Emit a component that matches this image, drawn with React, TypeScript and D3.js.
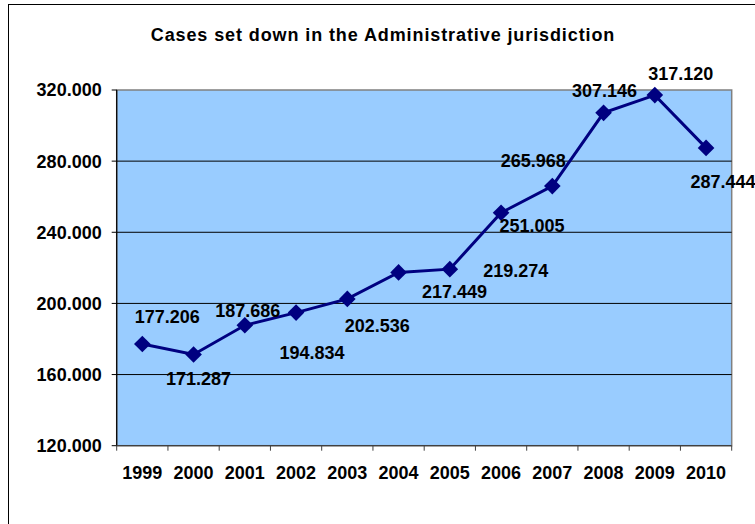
import React from "react";
import * as d3 from "d3";

const title = "Cases set down in the Administrative jurisdiction";
const years = ["1999", "2000", "2001", "2002", "2003", "2004", "2005", "2006", "2007", "2008", "2009", "2010"];
const cases = [177206, 171287, 187686, 194834, 202536, 217449, 219274, 251005, 265968, 307146, 317120, 287444];
const yTicks = [120000, 160000, 200000, 240000, 280000, 320000];
// label placement relative to the marker (pixels)
const labelDx = [25, 5, 3, 16, 30, 56, 66, 31, -19, 1, 26, 17];
const labelDy = [-21, 31, -8, 46, 33, 26, 8, 19, -19, -16, -15, 40];

const W = 755;
const H = 524;
const plot = { left: 116.7, top: 90, right: 731.7, bottom: 445.7 };

export default function App() {
  const x = d3.scaleBand<string>().domain(years).range([plot.left, plot.right]).padding(0);
  const y = d3.scaleLinear().domain([120000, 320000]).range([plot.bottom, plot.top]);
  const cx = (i: number) => (x(years[i]) as number) + x.bandwidth() / 2;
  const line = d3
    .line<number>()
    .x((_, i) => cx(i))
    .y((d) => y(d));
  const font = "'Liberation Sans', Arial, sans-serif";
  const s = 8.3;
  const dPath = `M0,${-s}L${s},0L0,${s}L${-s},0Z`;
  const fs = 18;
  return (
    <svg width={W} height={H} style={{ position: "absolute", left: 0, top: 0 }} fontFamily={font}>
      <rect x={0} y={0} width={W} height={H} fill="#fff" />
      <rect x={8.5} y={4.5} width={W + 20} height={H + 20} fill="none" stroke="#000" strokeWidth={1} />
      <text x={383} y={40.7} textAnchor="middle" fontSize={18} fontWeight="bold" letterSpacing={0.9}>
        {title}
      </text>
      <rect
        x={plot.left}
        y={plot.top}
        width={plot.right - plot.left}
        height={plot.bottom - plot.top}
        fill="#99CCFF"
        stroke="#808080"
        strokeWidth={1.5}
      />
      {yTicks.slice(1, -1).map((t) => (
        <line key={t} x1={plot.left} x2={plot.right} y1={y(t)} y2={y(t)} stroke="#000" strokeWidth={1} />
      ))}
      {/* y axis */}
      <line x1={plot.left} x2={plot.left} y1={plot.top} y2={plot.bottom} stroke="#000" strokeWidth={1.2} />
      {yTicks.map((t) => (
        <g key={t}>
          <line x1={plot.left - 5} x2={plot.left} y1={y(t)} y2={y(t)} stroke="#000" strokeWidth={1} />
          <text x={plot.left - 15} y={y(t)} dy="0.36em" textAnchor="end" fontSize={fs} fontWeight="bold">
            {(t / 1000).toFixed(3)}
          </text>
        </g>
      ))}
      {/* x axis */}
      <line x1={plot.left} x2={plot.right} y1={plot.bottom} y2={plot.bottom} stroke="#404040" strokeWidth={1.2} />
      {years.concat(["end"]).map((yr, i) => {
        const xp = i < years.length ? (x(yr) as number) : plot.right;
        return <line key={yr} x1={xp} x2={xp} y1={plot.bottom} y2={plot.bottom + 5} stroke="#404040" strokeWidth={1} />;
      })}
      {years.map((yr, i) => (
        <text key={yr} x={cx(i)} y={479} textAnchor="middle" fontSize={fs} fontWeight="bold">
          {yr}
        </text>
      ))}
      <path d={line(cases) as string} fill="none" stroke="#000080" strokeWidth={3} />
      {cases.map((v, i) => (
        <path key={i} d={dPath} transform={`translate(${cx(i)},${y(v)})`} fill="#000080" />
      ))}
      {cases.map((v, i) => (
        <text
          key={"l" + i}
          x={cx(i) + labelDx[i]}
          y={y(v) + labelDy[i]}
          textAnchor="middle"
          fontSize={fs}
          fontWeight="bold"
        >
          {(v / 1000).toFixed(3)}
        </text>
      ))}
    </svg>
  );
}
